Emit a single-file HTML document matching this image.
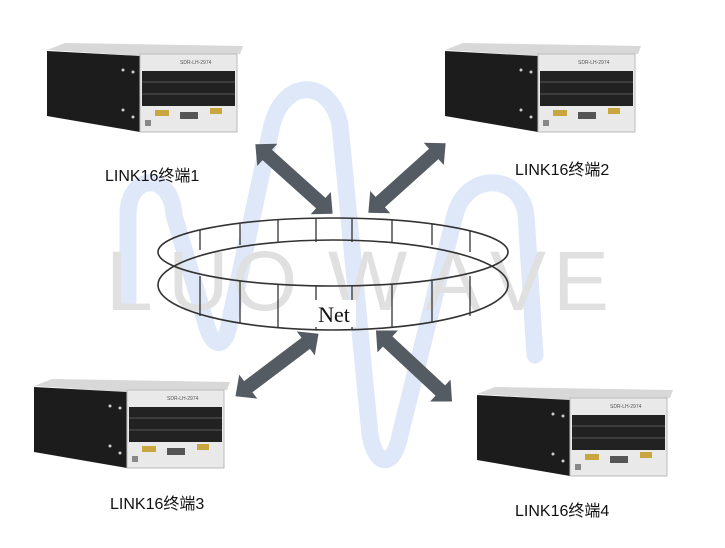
<!DOCTYPE html>
<html><head><meta charset="utf-8"><style>
body{margin:0;background:#fff;width:725px;height:548px;overflow:hidden;position:relative;font-family:"Liberation Sans","Noto Sans CJK SC",sans-serif}
.l{position:absolute;font-size:16px;color:#111}
</style></head><body>
<svg width="725" height="548" style="position:absolute;left:0;top:0">
<defs>
<g id="dev">
<polygon points="2,8 20,1 198,4 195,12 95,14" fill="#d8d8d8"/>
<polygon points="2,9 95,14 95,90 2,74" fill="#1c1c1c"/>
<rect x="95" y="12" width="97" height="78" fill="#e9e9e9"/>
<rect x="95" y="12" width="97" height="78" fill="none" stroke="#bbb"/>
<rect x="97" y="29" width="93" height="35" fill="#222"/>
<line x1="97" y1="40" x2="190" y2="40" stroke="#555"/>
<line x1="97" y1="52" x2="190" y2="52" stroke="#555"/>
<circle cx="78" cy="28" r="1.5" fill="#ccc"/><circle cx="88" cy="30" r="1.5" fill="#ccc"/>
<circle cx="78" cy="68" r="1.5" fill="#ccc"/><circle cx="88" cy="75" r="1.5" fill="#ccc"/>
<rect x="110" y="68" width="14" height="6" fill="#c9a640"/>
<rect x="165" y="66" width="12" height="6" fill="#c9a640"/>
<rect x="135" y="70" width="18" height="7" fill="#555"/>
<rect x="100" y="78" width="6" height="6" fill="#888"/>
<text x="135" y="22" font-size="5" fill="#555" font-family="Liberation Sans">SDR-LH-2974</text>
</g>
</defs>
<path d="M128,300 L128,215 C128,172 172,172 174,215 L205,320 C212,350 226,350 230,320 L272,125 C284,78 330,78 340,125 L370,435 C376,468 394,468 400,435 L455,215 C466,172 520,172 526,215 L535,355" fill="none" stroke="#dfe8f8" stroke-width="17" stroke-linecap="round"/>
<g font-size="84" fill="#e0e0e0" font-family="Liberation Sans">
<text x="106" y="310">L</text><text x="168" y="310">U</text><text x="232" y="310">O</text>
<text x="328" y="310">W</text><text x="425" y="310">A</text><text x="490" y="310">V</text><text x="553" y="310">E</text>
</g>
<use href="#dev" transform="translate(45,42)"/>
<use href="#dev" transform="translate(443,42)"/>
<use href="#dev" transform="translate(32,378)"/>
<use href="#dev" transform="translate(475,386)"/>
<g fill="none" stroke="#333" stroke-width="1.6">
<ellipse cx="333" cy="252" rx="175" ry="34"/>
<ellipse cx="333" cy="285" rx="175" ry="45"/>
<g stroke-width="1.3">
<line x1="200" y1="230" x2="200" y2="250"/><line x1="240" y1="224" x2="240" y2="245"/><line x1="278" y1="220" x2="278" y2="243"/>
<line x1="316" y1="218" x2="316" y2="242"/><line x1="352" y1="218" x2="352" y2="242"/><line x1="392" y1="220" x2="392" y2="243"/>
<line x1="432" y1="224" x2="432" y2="245"/><line x1="470" y1="230" x2="470" y2="252"/>
<line x1="200" y1="276" x2="200" y2="316"/><line x1="240" y1="281" x2="240" y2="323"/><line x1="278" y1="284" x2="278" y2="328"/>
<line x1="316" y1="286" x2="316" y2="330"/><line x1="352" y1="286" x2="352" y2="330"/><line x1="392" y1="284" x2="392" y2="328"/>
<line x1="432" y1="281" x2="432" y2="323"/><line x1="470" y1="276" x2="470" y2="316"/>
</g></g>
<rect x="312" y="300" width="44" height="27" fill="#fff"/>
<text x="334" y="322" text-anchor="middle" font-size="22" font-family="Liberation Serif" fill="#111">Net</text>
<g fill="#555b62">
<g transform="translate(294,179) rotate(42)"><polygon points="-52,0 -36,-15 -36,-7 36,-7 36,-15 52,0 36,15 36,7 -36,7 -36,15"/></g>
<g transform="translate(407,178) rotate(-42)"><polygon points="-52,0 -36,-15 -36,-7 36,-7 36,-15 52,0 36,15 36,7 -36,7 -36,15"/></g>
<g transform="translate(277,365) rotate(-37)"><polygon points="-52,0 -36,-15 -36,-7 36,-7 36,-15 52,0 36,15 36,7 -36,7 -36,15"/></g>
<g transform="translate(414,366) rotate(43)"><polygon points="-52,0 -36,-15 -36,-7 36,-7 36,-15 52,0 36,15 36,7 -36,7 -36,15"/></g>
</g>
</svg>
<div class="l" style="left:105px;top:162px">LINK16终端1</div>
<div class="l" style="left:515px;top:156px">LINK16终端2</div>
<div class="l" style="left:110px;top:490px">LINK16终端3</div>
<div class="l" style="left:515px;top:497px">LINK16终端4</div>
</body></html>
